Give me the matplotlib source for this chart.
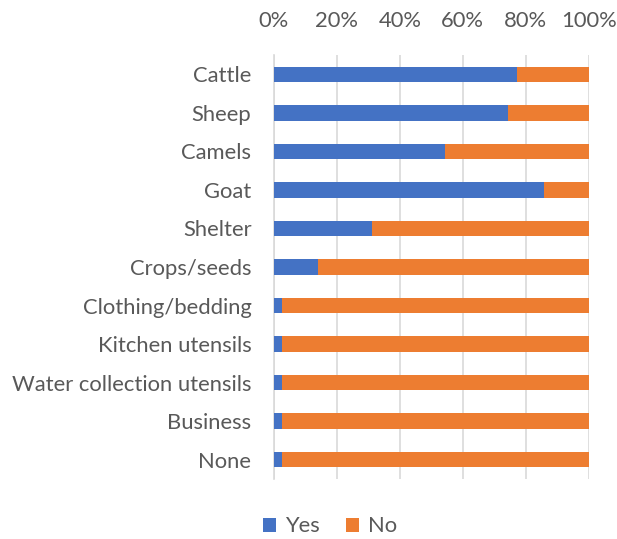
"""Stacked 100% bar chart: assets owned (Yes / No)."""

import matplotlib
matplotlib.use("Agg")
import matplotlib.pyplot as plt
import numpy as np
from matplotlib.ticker import PercentFormatter

plt.rcParams["font.family"] = ["Lato", "DejaVu Sans"]

categories = [
    "Cattle", "Sheep", "Camels", "Goat", "Shelter", "Crops/seeds",
    "Clothing/bedding", "Kitchen utensils", "Water collection utensils",
    "Business", "None",
]
yes_pct = [77.1, 74.2, 54.2, 85.7, 31.3, 14.1, 2.6, 2.6, 2.6, 2.6, 2.6]
no_pct = [100 - v for v in yes_pct]

BLUE = "#4472c4"
ORANGE = "#ed7d31"
TEXT = "#595959"
GRID = "#d9d9d9"

fig = plt.figure(figsize=(6.17, 5.39), dpi=100)
ax = fig.add_axes([0.4436, 0.1113, 0.5110, 0.7867])

y = np.arange(len(categories))
ax.barh(y, yes_pct, height=0.4, color=BLUE, label="Yes", zorder=3)
ax.barh(y, no_pct, left=yes_pct, height=0.4, color=ORANGE, label="No", zorder=3)

ax.set_xlim(0, 100)
ax.set_ylim(len(categories) - 0.5, -0.5)
ax.set_xticks(np.arange(0, 101, 20))
ax.xaxis.set_major_formatter(PercentFormatter(decimals=0))
ax.xaxis.tick_top()
ax.set_yticks(y)
ax.set_yticklabels(categories)

ax.tick_params(axis="both", length=0, labelsize=15.8, colors=TEXT)
ax.tick_params(axis="x", pad=17)
ax.tick_params(axis="y", pad=16)
ax.grid(True, axis="x", color=GRID, linewidth=1.2, zorder=0)
for side in ("top", "right", "bottom"):
    ax.spines[side].set_visible(False)
ax.spines["left"].set_color(GRID)
ax.spines["left"].set_linewidth(1.2)

fig.legend(
    loc="lower center", bbox_to_anchor=(0.535, -0.032), ncol=2, frameon=False,
    fontsize=15.8, labelcolor=TEXT, handlelength=0.6, handleheight=0.6,
    handletextpad=0.4, columnspacing=1.2,
)

fig.savefig("out.png", dpi=100)
